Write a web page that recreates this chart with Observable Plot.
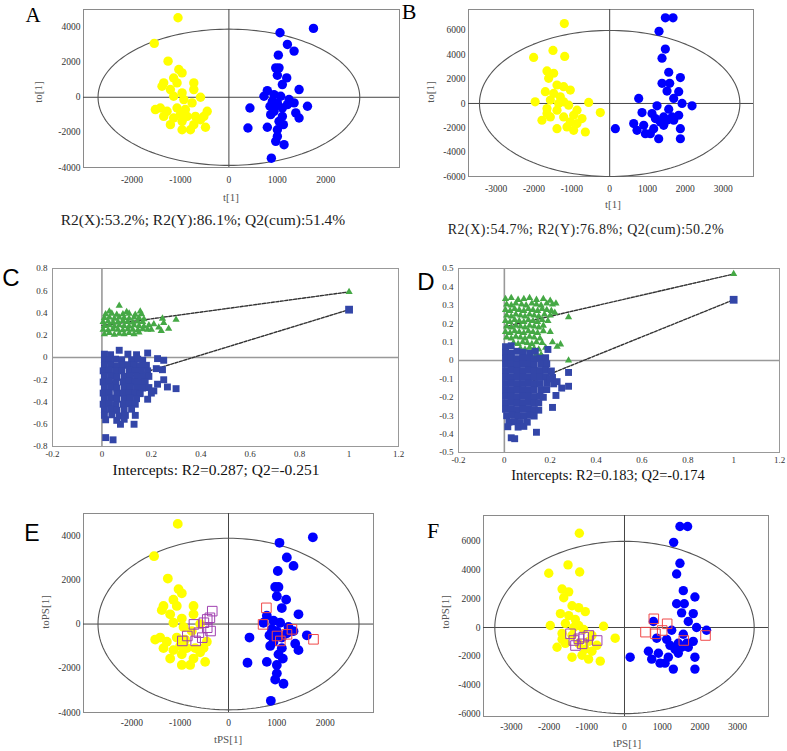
<!DOCTYPE html>
<html><head><meta charset="utf-8">
<script src="https://cdn.jsdelivr.net/npm/d3@7"></script>
<script src="https://cdn.jsdelivr.net/npm/@observablehq/plot@0.6"></script>
<style>
html,body{margin:0;padding:0;background:#fff;}
#root{position:relative;width:787px;height:751px;overflow:hidden;background:#fff;}
#root svg{position:absolute;overflow:visible;background:transparent;}
.t{position:absolute;white-space:nowrap;line-height:1;transform:translate(-50%,-50%);font-family:"Liberation Serif","Times New Roman",serif;color:#222;}
</style></head><body><div id="root"></div>
<script>
// ---------- Score plot data (panels A & E share, B & F share) ----------
const scoresAYellow = [[-1050,4530],[-1540,3070],[-1255,2057],[-1034,1580],[-966,1390],[-1140,1100],[-1345,820],[-1380,630],[-1070,820],[-724,820],[-724,440],[-1207,440],[-966,250],[-1140,60],[-930,-130],[-586,0],[-760,-320],[-1414,-610],[-1276,-800],[-1070,-610],[-1345,-1090],[-1000,-990],[-862,-1090],[-690,-1090],[-448,-800],[-517,-1090],[-1140,-1180],[-966,-1370],[-724,-1560],[-483,-1710],[-793,-1850],[-966,-1850],[-1207,-1560],[-897,-700],[-1517,-700],[-586,-1280]];
const scoresABlue = [[1745,3924],[1055,3676],[1207,3010],[1345,2630],[1020,2400],[966,1676],[1034,1676],[1000,1257],[1193,1105],[1103,724],[1448,440],[793,380],[724,60],[931,150],[1069,60],[897,-230],[1000,-320],[1241,-130],[1345,-320],[1621,-510],[848,-510],[1103,-610],[931,-800],[1380,-890],[1448,-1180],[434,-610],[862,-990],[1103,-1090],[1034,-1370],[1124,-1560],[793,-1710],[393,-1750],[1000,-1850],[1000,-2230],[966,-2510],[1138,-2700],[876,-3470],[1207,-420],[966,-460]];
const scoresBYellow = [[-1198,6566],[-2009,3779],[-1498,4359],[-1189,3862],[-1656,2676],[-1480,2483],[-1612,2069],[-1392,1517],[-1216,1379],[-1040,1103],[-1700,966],[-1480,828],[-1304,552],[-1969,138],[-1568,276],[-1216,138],[-1656,-414],[-555,83],[-247,-745],[-1392,-552],[-863,-552],[-1789,-1379],[-1568,-1103],[-1216,-1103],[-952,-966],[-731,-1241],[-1392,-2069],[-1128,-1931],[-952,-2207],[-643,-2345],[-1656,-828],[-1040,-1517],[-863,-1655],[-1348,0],[-1084,-138]];
const scoresBBlue = [[1471,7034],[1674,7034],[1304,5931],[1471,4469],[1383,3724],[1560,2566],[1868,2124],[1383,1655],[1586,1655],[1515,1021],[1824,966],[1692,414],[1912,0],[2176,-193],[767,414],[1251,-193],[1560,-469],[855,-745],[1119,-828],[1427,-1103],[1824,-966],[634,-1655],[899,-1793],[1207,-1241],[1515,-1379],[1692,-1379],[1868,-2069],[943,-2483],[1295,-2897],[1868,-2897],[150,-2069],[1163,-2069],[1427,-1793],[722,-2207],[1075,-2483],[1648,-1103],[1339,-1517]];
// predicted (test set) samples in panels E and F
const predEPurple = [[-336,584],[-385,283],[-440,210],[-509,60],[-371,-315],[-440,-165],[-612,-390],[-543,-615],[-680,-764],[-955,-764],[-852,-540],[-715,-15]];
const predERed = [[784,733],[715,-15],[1313,-240],[1759,-690],[1072,-764],[1004,-540],[1210,-465]];
const predFPurple = [[-1344,-906],[-1212,-790],[-1080,-673],[-1300,-1254],[-1123,-1138],[-946,-557],[-725,-906],[-1432,-441]];
const predFRed = [[778,604],[1132,256],[557,-325],[822,-441],[1573,-906],[2149,-557],[1000,-209]];
// Hotelling ellipse half-axes [rx, ry]
const ellipseAE = [2700, 3880];
const ellipseBF = [3440, 6000];

// ---------- Permutation test data (panels C & D) ----------
const permCGreen = [[0.01,0.21],[0.03,0.22],[0.05,0.205],[0.07,0.215],[0.09,0.21],[0.11,0.22],[0.13,0.21],[0.15,0.225],
[0.005,0.25],[0.025,0.245],[0.045,0.255],[0.065,0.25],[0.085,0.245],[0.105,0.255],[0.125,0.25],[0.145,0.245],[0.165,0.255],[0.185,0.25],
[0.01,0.285],[0.03,0.29],[0.05,0.28],[0.07,0.29],[0.09,0.285],[0.11,0.28],[0.13,0.29],[0.15,0.285],[0.17,0.28],[0.19,0.29],
[0.005,0.32],[0.025,0.325],[0.045,0.315],[0.065,0.32],[0.085,0.33],[0.105,0.32],[0.125,0.315],[0.145,0.325],[0.165,0.32],
[0.01,0.355],[0.03,0.36],[0.05,0.35],[0.07,0.36],[0.09,0.355],[0.11,0.35],[0.13,0.36],[0.15,0.355],[0.17,0.345],
[0.015,0.39],[0.04,0.395],[0.06,0.385],[0.085,0.39],[0.11,0.395],[0.135,0.385],[0.16,0.39],
[0.03,0.415],[0.1,0.41],[0.155,0.415],[0.07,0.465],
[0.21,0.3],[0.23,0.27],[0.245,0.35],[0.25,0.31],[0.27,0.26],[0.3,0.34],[0.24,0.24],[0.2,0.25]];
const permCBlue = [[0.01,0.03],[0.035,0.025],[0.105,0.03],[0.14,0.025],[0.07,0.065],[0.185,0.04],
[0.01,-0.02],[0.03,-0.025],[0.055,-0.015],[0.08,-0.02],[0.12,-0.02],[0.145,-0.015],[0.165,-0.025],
[0.01,-0.07],[0.035,-0.065],[0.06,-0.075],[0.085,-0.07],[0.105,-0.065],[0.13,-0.07],[0.155,-0.075],[0.18,-0.07],
[0.005,-0.12],[0.03,-0.115],[0.055,-0.125],[0.08,-0.12],[0.11,-0.115],[0.135,-0.12],[0.16,-0.125],[0.185,-0.12],
[0.01,-0.17],[0.035,-0.165],[0.06,-0.175],[0.09,-0.17],[0.115,-0.165],[0.14,-0.17],[0.165,-0.175],[0.19,-0.17],
[0.005,-0.22],[0.03,-0.215],[0.055,-0.225],[0.085,-0.22],[0.11,-0.215],[0.135,-0.22],[0.16,-0.225],[0.175,-0.22],
[0.01,-0.27],[0.035,-0.265],[0.06,-0.275],[0.09,-0.27],[0.115,-0.265],[0.14,-0.27],[0.165,-0.275],[0.19,-0.27],
[0.005,-0.32],[0.03,-0.315],[0.06,-0.325],[0.085,-0.32],[0.11,-0.315],[0.135,-0.32],[0.155,-0.325],
[0.01,-0.37],[0.035,-0.365],[0.06,-0.375],[0.09,-0.37],[0.115,-0.365],[0.14,-0.37],[0.185,-0.375],
[0.005,-0.42],[0.03,-0.415],[0.055,-0.425],[0.085,-0.42],[0.11,-0.415],[0.135,-0.42],
[0.01,-0.47],[0.035,-0.465],[0.06,-0.475],[0.09,-0.47],[0.12,-0.465],
[0.01,-0.52],[0.04,-0.515],[0.07,-0.525],[0.095,-0.52],[0.135,-0.52],
[0.015,-0.56],[0.06,-0.565],[0.09,-0.555],[0.075,-0.6],[0.13,-0.6],
[0.015,-0.72],[0.045,-0.74],
[0.225,-0.01],[0.25,-0.025],[0.22,-0.1],[0.245,-0.11],[0.25,-0.2],[0.265,-0.265],[0.3,-0.28],[0.21,-0.3],[0.225,-0.24],[0.2,-0.32]];
const permCOriginal = {green:[1,0.59], blue:[1,0.43]};
const permCIntercepts = {r2:0.287, q2:-0.251};

const permDGreen = [[0.005,0.335],[0.03,0.34],[0.06,0.33],[0.085,0.335],[0.11,0.34],[0.14,0.33],[0.17,0.335],[0.2,0.325],
[0.01,0.305],[0.03,0.3],[0.05,0.31],[0.075,0.305],[0.095,0.3],[0.12,0.31],[0.14,0.305],[0.16,0.3],[0.185,0.31],[0.21,0.305],[0.225,0.31],
[0.005,0.275],[0.025,0.27],[0.045,0.28],[0.065,0.275],[0.085,0.27],[0.105,0.28],[0.125,0.275],[0.145,0.27],[0.165,0.28],[0.185,0.275],[0.205,0.27],
[0.01,0.245],[0.03,0.24],[0.05,0.25],[0.07,0.245],[0.09,0.24],[0.11,0.25],[0.13,0.245],[0.15,0.24],[0.175,0.25],[0.2,0.245],[0.22,0.26],
[0.005,0.215],[0.025,0.21],[0.045,0.22],[0.065,0.215],[0.085,0.21],[0.105,0.22],[0.125,0.215],[0.145,0.21],[0.165,0.22],[0.19,0.215],
[0.01,0.185],[0.03,0.18],[0.05,0.19],[0.07,0.185],[0.09,0.18],[0.11,0.19],[0.13,0.185],[0.15,0.18],[0.17,0.19],
[0.005,0.155],[0.025,0.15],[0.045,0.16],[0.065,0.155],[0.085,0.15],[0.105,0.16],[0.125,0.155],[0.145,0.15],[0.17,0.16],
[0.01,0.125],[0.03,0.12],[0.05,0.13],[0.07,0.125],[0.09,0.12],[0.11,0.13],[0.13,0.125],[0.155,0.12],
[0.04,0.095],[0.06,0.09],[0.08,0.1],[0.1,0.095],[0.12,0.09],[0.14,0.1],[0.165,0.095],
[0.07,0.065],[0.09,0.06],[0.11,0.07],[0.13,0.065],[0.15,0.06],[0.18,0.07],
[0.14,0.035],[0.16,0.03],
[0.23,0.075],[0.245,0.088],[0.28,0.235],[0.28,0.0],[0.165,0.02],[0.21,0.1],[0.2,0.155]];
const permDBlue = [[0.005,0.075],[0.03,0.08],
[0.005,0.045],[0.03,0.04],[0.055,0.05],[0.08,0.045],[0.11,0.04],[0.135,0.05],
[0.005,0.012],[0.03,0.015],[0.055,0.01],[0.08,0.012],[0.105,0.015],[0.13,0.01],[0.155,0.012],[0.18,0.015],
[0.005,-0.02],[0.03,-0.018],[0.055,-0.022],[0.08,-0.02],[0.105,-0.018],[0.13,-0.022],[0.16,-0.02],[0.185,-0.018],
[0.005,-0.055],[0.03,-0.053],[0.055,-0.057],[0.08,-0.055],[0.105,-0.053],[0.13,-0.057],[0.155,-0.055],[0.18,-0.053],[0.205,-0.057],
[0.005,-0.09],[0.03,-0.088],[0.055,-0.092],[0.08,-0.09],[0.105,-0.088],[0.13,-0.092],[0.155,-0.09],[0.18,-0.088],[0.21,-0.092],
[0.005,-0.125],[0.03,-0.123],[0.055,-0.127],[0.08,-0.125],[0.105,-0.123],[0.13,-0.127],[0.155,-0.125],[0.185,-0.123],[0.215,-0.127],
[0.005,-0.16],[0.03,-0.158],[0.055,-0.162],[0.08,-0.16],[0.105,-0.158],[0.13,-0.162],[0.16,-0.16],[0.185,-0.158],
[0.005,-0.195],[0.03,-0.193],[0.055,-0.197],[0.08,-0.195],[0.105,-0.193],[0.13,-0.197],[0.155,-0.195],[0.17,-0.2],
[0.005,-0.23],[0.03,-0.228],[0.055,-0.232],[0.08,-0.23],[0.105,-0.228],[0.13,-0.232],[0.15,-0.23],
[0.005,-0.265],[0.03,-0.263],[0.055,-0.267],[0.08,-0.265],[0.105,-0.263],[0.13,-0.267],[0.15,-0.27],
[0.01,-0.3],[0.035,-0.298],[0.06,-0.302],[0.085,-0.3],[0.11,-0.298],[0.13,-0.302],
[0.02,-0.335],[0.045,-0.333],[0.07,-0.337],[0.1,-0.335],
[0.015,-0.36],[0.06,-0.362],[0.085,-0.358],
[0.19,0.06],[0.28,-0.065],[0.28,-0.14],[0.25,-0.15],[0.225,-0.19],[0.21,-0.255],[0.14,-0.39],[0.03,-0.42],[0.045,-0.425],[0.2,-0.1],[0.23,-0.115]];
const permDOriginal = {green:[1,0.47], blue:[1,0.33]};
const permDIntercepts = {r2:0.183, q2:-0.174};

// ---------- tick values ----------
const ticksAEx = [-2000,-1000,0,1000,2000];
const ticksAEy = [-4000,-2000,0,2000,4000];
const ticksBFx = [-3000,-2000,-1000,0,1000,2000,3000];
const ticksBFy = [-6000,-4000,-2000,0,2000,4000,6000];
const ticksCDx = [-0.2,0,0.2,0.4,0.6,0.8,1,1.2];
const ticksCy = [-0.8,-0.6,-0.4,-0.2,0,0.2,0.4,0.6,0.8];
const ticksDy = [-0.5,-0.4,-0.3,-0.2,-0.1,0,0.1,0.2,0.3,0.4,0.5];

// ---------- text ----------
const captionA = "R2(X):53.2%; R2(Y):86.1%; Q2(cum):51.4%";
const captionB = "R2(X):54.7%; R2(Y):76.8%; Q2(cum):50.2%";

const root = document.getElementById("root");
const fmt = d => String(d);
const X = d => d[0], Y = d => d[1];

function place(el, left, top) {
  el.style.left = left + "px";
  el.style.top = top + "px";
  root.appendChild(el);
}
function label(text, x, y, opts = {}) {
  const d = document.createElement("div");
  d.className = "t";
  d.textContent = text;
  d.style.left = x + "px";
  d.style.top = y + "px";
  d.style.fontSize = (opts.size || 12) + "px";
  if (opts.family) d.style.fontFamily = opts.family;
  if (opts.color) d.style.color = opts.color;
  if (opts.spacing) d.style.letterSpacing = opts.spacing + "px";
  if (opts.rotate) d.style.transform = "translate(-50%,-50%) rotate(-90deg)";
  root.appendChild(d);
}

function scores(cfg) {
  const [rx, ry] = cfg.ellipse;
  const ell = d3.range(0, 361, 2).map(a => [rx * Math.cos(a * Math.PI / 180), ry * Math.sin(a * Math.PI / 180)]);
  const marks = [
    Plot.frame({stroke: "#8a8a8a"}),
    Plot.ruleX([0], {stroke: "#444", strokeWidth: 1}),
    Plot.ruleY([0], {stroke: "#444", strokeWidth: 1}),
    Plot.line(ell, {x: X, y: Y, stroke: "#555", strokeWidth: 1.1}),
    Plot.dot(cfg.yellow, {x: X, y: Y, r: cfg.r, fill: "#ffff00"}),
    Plot.dot(cfg.blue, {x: X, y: Y, r: cfg.r, fill: "#0000ff"})
  ];
  if (cfg.purple) marks.push(Plot.dot(cfg.purple, {x: X, y: Y, symbol: "square", r: 5.4, stroke: "#a040b0", strokeWidth: 1, fill: "none"}));
  if (cfg.red) marks.push(Plot.dot(cfg.red, {x: X, y: Y, symbol: "square", r: 5.4, stroke: "#f04848", strokeWidth: 1, fill: "none"}));
  marks.push(
    Plot.axisX({ticks: cfg.xTicks, tickSize: 0, tickPadding: cfg.xPad, tickFormat: fmt, label: null}),
    Plot.axisY({ticks: cfg.yTicks, tickSize: 0, tickPadding: 3, tickFormat: fmt, label: null})
  );
  return Plot.plot({
    width: cfg.width, height: cfg.height,
    marginLeft: cfg.mL, marginRight: cfg.mR, marginTop: cfg.mT, marginBottom: cfg.mB,
    x: {domain: cfg.xDomain}, y: {domain: cfg.yDomain},
    style: {fontFamily: "Liberation Serif, serif", fontSize: "9.5px", color: "#333", background: "transparent"},
    marks
  });
}

function perm(cfg) {
  const o = cfg.orig;
  return Plot.plot({
    width: cfg.width, height: cfg.height,
    marginLeft: cfg.mL, marginRight: cfg.mR, marginTop: cfg.mT, marginBottom: cfg.mB,
    x: {domain: [-0.2, 1.2]}, y: {domain: cfg.yDomain},
    style: {fontFamily: "Liberation Serif, serif", fontSize: "9px", color: "#333", background: "transparent"},
    marks: [
      Plot.frame({stroke: "#999"}),
      Plot.ruleX([0], {stroke: "#999", strokeWidth: 1.6}),
      Plot.ruleY([0], {stroke: "#999", strokeWidth: 1.6}),
      Plot.line([[0, cfg.icpt.r2], o.green], {x: X, y: Y, stroke: "#333", strokeWidth: 1.4, strokeDasharray: "3,1.5"}),
      Plot.line([[0, cfg.icpt.q2], o.blue], {x: X, y: Y, stroke: "#333", strokeWidth: 1.4, strokeDasharray: "3,1.5"}),
      Plot.dot(cfg.green, {x: X, y: Y, symbol: "triangle", r: 2.7, fill: "#45a845"}),
      Plot.dot(cfg.blue, {x: X, y: Y, symbol: "square", r: 3.9, fill: "#3346a8"}),
      Plot.dot([o.green], {x: X, y: Y, symbol: "triangle", r: 2.7, fill: "#45a845"}),
      Plot.dot([o.blue], {x: X, y: Y, symbol: "square", r: 4.4, fill: "#3346a8"}),
      Plot.axisX({ticks: ticksCDx, tickSize: 0, tickPadding: 4, tickFormat: fmt, label: null}),
      Plot.axisY({ticks: cfg.yTicks, tickSize: 0, tickPadding: 5, tickFormat: fmt, label: null})
    ]
  });
}

// Panel A
place(scores({width: 400, height: 200, mL: 83, mR: 1, mT: 9, mB: 33,
  xDomain: [-3000, 3520], yDomain: [-4000, 5000], xTicks: ticksAEx, yTicks: ticksAEy, xPad: 9,
  ellipse: ellipseAE, yellow: scoresAYellow, blue: scoresABlue, r: 4.7}), 0, 0);
// Panel B
place(scores({width: 387, height: 200, mL: 68, mR: 34, mT: 9, mB: 24,
  xDomain: [-3730, 3800], yDomain: [-6000, 7720], xTicks: ticksBFx, yTicks: ticksBFy, xPad: 9,
  ellipse: ellipseBF, yellow: scoresBYellow, blue: scoresBBlue, r: 4.6}), 400, 0);
// Panel C
place(perm({width: 400, height: 210, mL: 52, mR: 2, mT: 18, mB: 14, yDomain: [-0.8, 0.8], yTicks: ticksCy,
  green: permCGreen, blue: permCBlue, orig: permCOriginal, icpt: permCIntercepts}), 0, 250);
// Panel D
place(perm({width: 387, height: 215, mL: 58, mR: 8, mT: 18, mB: 13, yDomain: [-0.5, 0.5], yTicks: ticksDy,
  green: permDGreen, blue: permDBlue, orig: permDOriginal, icpt: permDIntercepts}), 400, 250);
// Panel E
place(scores({width: 400, height: 240, mL: 83, mR: 27, mT: 13, mB: 28,
  xDomain: [-3000, 3000], yDomain: [-4000, 5000], xTicks: ticksAEx, yTicks: ticksAEy, xPad: 7,
  ellipse: ellipseAE, yellow: scoresAYellow, blue: scoresABlue, purple: predEPurple, red: predERed, r: 4.9}), 0, 500);
// Panel F
place(scores({width: 387, height: 240, mL: 83, mR: 19, mT: 15, mB: 24,
  xDomain: [-3740, 3820], yDomain: [-6200, 7800], xTicks: ticksBFx, yTicks: ticksBFy, xPad: 7,
  ellipse: ellipseBF, yellow: scoresBYellow, blue: scoresBBlue, purple: predFPurple, red: predFRed, r: 4.7}), 400, 500);

// Panel letters
const serif = "Liberation Serif, serif", sans = "Liberation Sans, Arial, sans-serif";
label("A", 33, 15, {size: 21, family: serif, color: "#000"});
label("B", 409, 12, {size: 22, family: serif, color: "#000"});
label("C", 11, 278, {size: 24, family: sans, color: "#000"});
label("D", 426, 282, {size: 24, family: sans, color: "#000"});
label("E", 32, 533, {size: 23, family: sans, color: "#000"});
label("F", 433, 531, {size: 22, family: serif, color: "#000"});

// Axis titles
const axc = "#555";
label("t[1]", 231, 197, {size: 11, color: axc});
label("to[1]", 38, 92, {size: 11, color: axc, rotate: true});
label("t[1]", 613, 204, {size: 11, color: axc});
label("to[1]", 430, 92, {size: 11, color: axc, rotate: true});
label("tPS[1]", 228, 739, {size: 11, color: axc});
label("toPS[1]", 45, 612, {size: 11, color: axc, rotate: true});
label("tPS[1]", 627, 743, {size: 11, color: axc});
label("toPS[1]", 445, 612, {size: 11, color: axc, rotate: true});

// Captions
label(captionA, 203, 220, {size: 15.5, color: "#222"});
label(captionB, 586, 230, {size: 14, color: "#222", spacing: 0.5});
label(`Intercepts: R2=${permCIntercepts.r2}; Q2=${permCIntercepts.q2}`, 216, 470, {size: 15.5, color: "#111"});
label(`Intercepts: R2=${permDIntercepts.r2}; Q2=${permDIntercepts.q2}`, 608, 475, {size: 14.5, color: "#111"});
</script></body></html>
